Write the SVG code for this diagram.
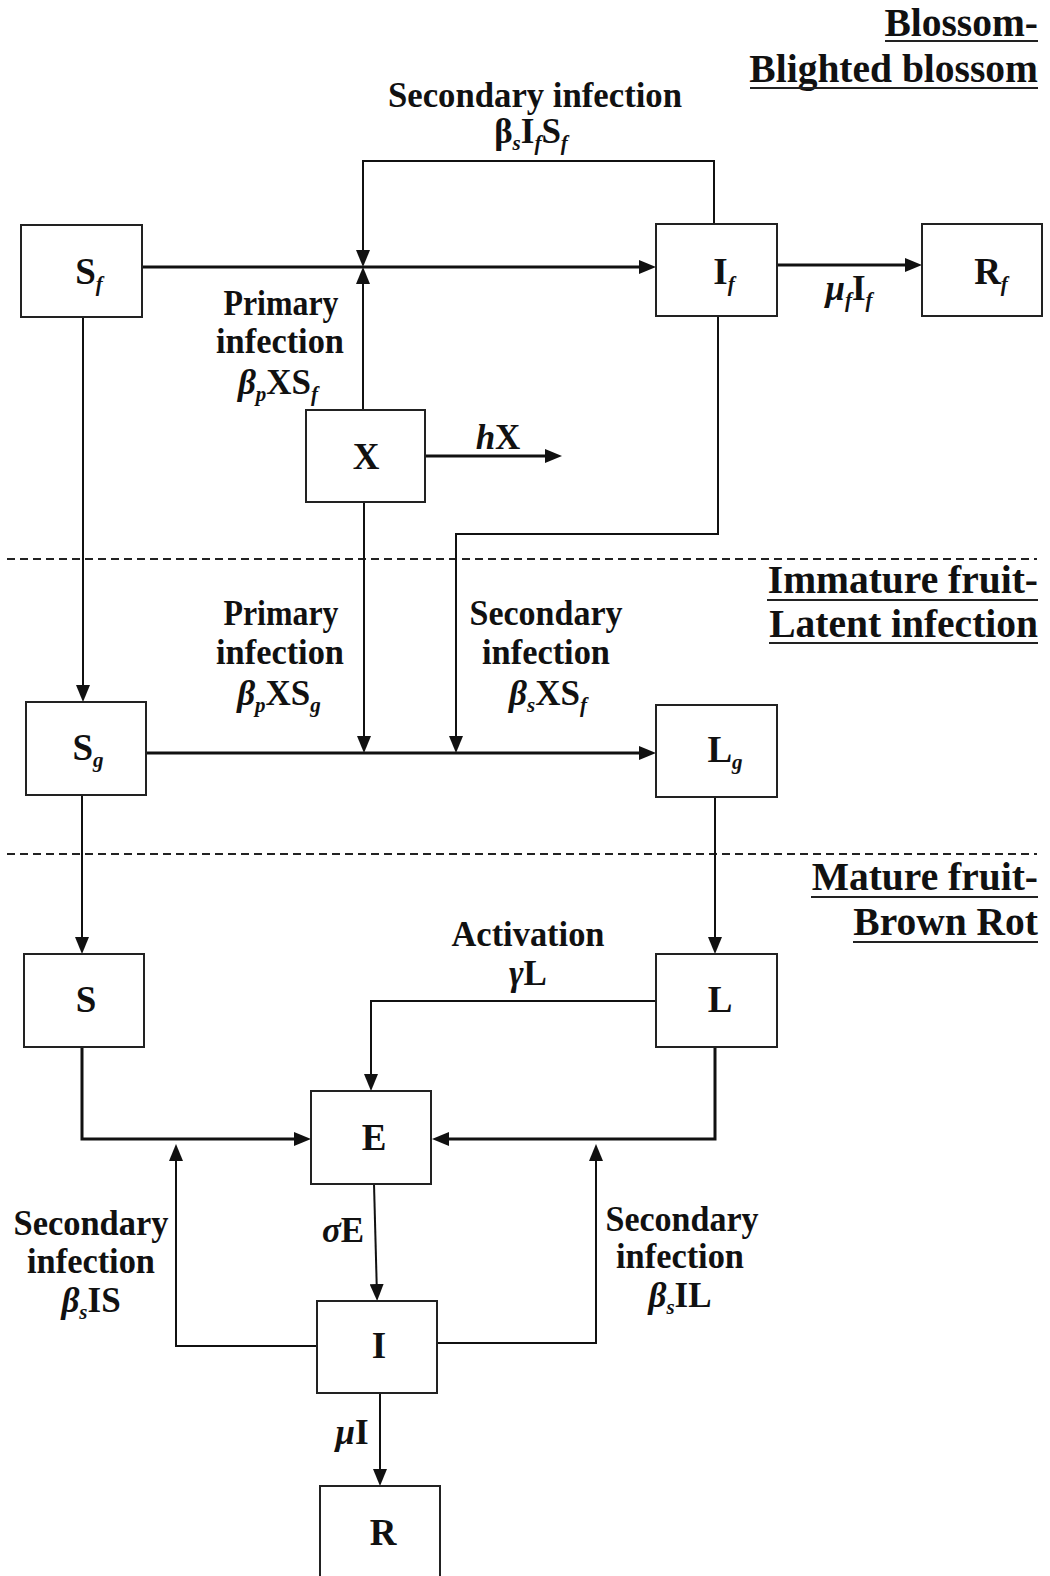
<svg xmlns="http://www.w3.org/2000/svg" width="1050" height="1576" viewBox="0 0 1050 1576">
<style>
text{font-family:"Liberation Serif","Times New Roman",serif;font-weight:bold;fill:#111}
.box{fill:#fff;stroke:#222;stroke-width:2}
.nl{font-size:37px;text-anchor:middle}
.lb{font-size:35px;text-anchor:middle}
.lw{font-size:35px;text-anchor:middle}
.hd{font-size:39.5px;text-anchor:end}
.sub{font-size:21px;font-style:italic}
.it{font-style:italic}
.ln{fill:none;stroke:#111;stroke-width:2}
.tk{stroke-width:3}
.ul{stroke:#222;stroke-width:2}
.dash{fill:none;stroke:#222;stroke-width:2;stroke-dasharray:8 5}
</style>
<defs>
<marker id="ah" markerUnits="userSpaceOnUse" markerWidth="17" markerHeight="14" viewBox="0 0 17 14" refX="12" refY="7" orient="auto">
<path d="M0,0 L17,7 L0,14 z" fill="#111"/>
</marker>
</defs>

<g id="headings">
<text class="hd" x="1038" y="36">Blossom-</text>
<line class="ul" x1="885" y1="41" x2="1038" y2="41"/>
<text class="hd" x="1038" y="82">Blighted blossom</text>
<line class="ul" x1="750" y1="88" x2="1038" y2="88"/>
<text class="hd" x="1038" y="593">Immature fruit-</text>
<line class="ul" x1="767" y1="600" x2="1038" y2="600"/>
<text class="hd" x="1038" y="637">Latent infection</text>
<line class="ul" x1="769" y1="643" x2="1038" y2="643"/>
<text class="hd" x="1038" y="890">Mature fruit-</text>
<line class="ul" x1="811" y1="897" x2="1038" y2="897"/>
<text class="hd" x="1038" y="935">Brown Rot</text>
<line class="ul" x1="853" y1="942" x2="1038" y2="942"/>
</g>

<g id="dividers">
<line class="dash" x1="7" y1="559" x2="1037" y2="559"/>
<line class="dash" x1="7" y1="854" x2="1037" y2="854"/>
</g>

<g id="connectors">
<path class="ln tk" d="M142,267 H651" marker-end="url(#ah)"/>
<path class="ln" d="M714,224 V161 H363 V262" marker-end="url(#ah)"/>
<path class="ln" d="M363,410 V272" marker-end="url(#ah)"/>
<path class="ln tk" d="M777,265 H917" marker-end="url(#ah)"/>
<path class="ln" d="M83,317 V697" marker-end="url(#ah)"/>
<path class="ln" d="M718,316 V534 H456 V748" marker-end="url(#ah)"/>
<path class="ln" d="M364,502 V748" marker-end="url(#ah)"/>
<path class="ln tk" d="M425,456 H557" marker-end="url(#ah)"/>
<path class="ln tk" d="M146,753 H651" marker-end="url(#ah)"/>
<path class="ln" d="M82,795 V949" marker-end="url(#ah)"/>
<path class="ln" d="M715,797 V949" marker-end="url(#ah)"/>
<path class="ln" d="M656,1001 H371 V1086" marker-end="url(#ah)"/>
<path class="ln tk" d="M82,1047 V1139 H306" marker-end="url(#ah)"/>
<path class="ln tk" d="M715,1047 V1139 H437" marker-end="url(#ah)"/>
<path class="ln" d="M317,1346 H176 V1149" marker-end="url(#ah)"/>
<path class="ln" d="M437,1343 H596 V1149" marker-end="url(#ah)"/>
<path class="ln" d="M374,1184 L377,1296" marker-end="url(#ah)"/>
<path class="ln" d="M380,1393 V1481" marker-end="url(#ah)"/>
</g>

<g id="connector-labels">
<text class="lw" x="535" y="107" textLength="294" lengthAdjust="spacingAndGlyphs">Secondary infection</text>
<text class="lb" x="531" y="143">β<tspan class="sub" dy="7">s</tspan><tspan dy="-7">I</tspan><tspan class="sub" dy="7">f</tspan><tspan dy="-7">S</tspan><tspan class="sub" dy="7">f</tspan></text>
<text class="lw" x="281" y="315" textLength="115" lengthAdjust="spacingAndGlyphs">Primary</text>
<text class="lw" x="280" y="353" textLength="128" lengthAdjust="spacingAndGlyphs">infection</text>
<text class="lb" x="278" y="394"><tspan class="it">β</tspan><tspan class="sub" dy="7">p</tspan><tspan dy="-7">XS</tspan><tspan class="sub" dy="7">f</tspan></text>
<text class="lb" x="498" y="449"><tspan class="it">h</tspan>X</text>
<text class="lb" x="849" y="300"><tspan class="it">μ</tspan><tspan class="sub" dy="7">f</tspan><tspan dy="-7">I</tspan><tspan class="sub" dy="7">f</tspan></text>
<text class="lw" x="281" y="625" textLength="115" lengthAdjust="spacingAndGlyphs">Primary</text>
<text class="lw" x="280" y="664" textLength="128" lengthAdjust="spacingAndGlyphs">infection</text>
<text class="lb" x="279" y="705"><tspan class="it">β</tspan><tspan class="sub" dy="7">p</tspan><tspan dy="-7">XS</tspan><tspan class="sub" dy="7">g</tspan></text>
<text class="lw" x="546" y="625" textLength="153" lengthAdjust="spacingAndGlyphs">Secondary</text>
<text class="lw" x="546" y="664" textLength="128" lengthAdjust="spacingAndGlyphs">infection</text>
<text class="lb" x="548" y="705"><tspan class="it">β</tspan><tspan class="sub" dy="7">s</tspan><tspan dy="-7">XS</tspan><tspan class="sub" dy="7">f</tspan></text>
<text class="lw" x="528" y="946" textLength="153" lengthAdjust="spacingAndGlyphs">Activation</text>
<text class="lb" x="528" y="985"><tspan class="it">γ</tspan>L</text>
<text class="lw" x="91" y="1235" textLength="155" lengthAdjust="spacingAndGlyphs">Secondary</text>
<text class="lw" x="91" y="1273" textLength="128" lengthAdjust="spacingAndGlyphs">infection</text>
<text class="lb" x="91" y="1312"><tspan class="it">β</tspan><tspan class="sub" dy="7">s</tspan><tspan dy="-7">IS</tspan></text>
<text class="lw" x="682" y="1231" textLength="153" lengthAdjust="spacingAndGlyphs">Secondary</text>
<text class="lw" x="680" y="1268" textLength="128" lengthAdjust="spacingAndGlyphs">infection</text>
<text class="lb" x="680" y="1307"><tspan class="it">β</tspan><tspan class="sub" dy="7">s</tspan><tspan dy="-7">IL</tspan></text>
<text class="lb" x="343" y="1242"><tspan class="it">σ</tspan>E</text>
<text class="lb" x="352" y="1444"><tspan class="it">μ</tspan>I</text>
</g>

<g id="node-Sf"><rect class="box" x="21" y="225" width="121" height="92"/><text class="nl" x="89" y="284">S<tspan class="sub" dy="7">f</tspan></text></g>
<g id="node-If"><rect class="box" x="656" y="224" width="121" height="92"/><text class="nl" x="724" y="284">I<tspan class="sub" dy="7">f</tspan></text></g>
<g id="node-Rf"><rect class="box" x="922" y="224" width="120" height="92"/><text class="nl" x="991" y="284">R<tspan class="sub" dy="7">f</tspan></text></g>
<g id="node-X"><rect class="box" x="306" y="410" width="119" height="92"/><text class="nl" x="366" y="469">X</text></g>
<g id="node-Sg"><rect class="box" x="26" y="702" width="120" height="93"/><text class="nl" x="88" y="760">S<tspan class="sub" dy="7">g</tspan></text></g>
<g id="node-Lg"><rect class="box" x="656" y="705" width="121" height="92"/><text class="nl" x="725" y="762">L<tspan class="sub" dy="7">g</tspan></text></g>
<g id="node-S"><rect class="box" x="24" y="954" width="120" height="93"/><text class="nl" x="86" y="1012">S</text></g>
<g id="node-L"><rect class="box" x="656" y="954" width="121" height="93"/><text class="nl" x="720" y="1012">L</text></g>
<g id="node-E"><rect class="box" x="311" y="1091" width="120" height="93"/><text class="nl" x="374" y="1150">E</text></g>
<g id="node-I"><rect class="box" x="317" y="1301" width="120" height="92"/><text class="nl" x="379" y="1358">I</text></g>
<g id="node-R"><rect class="box" x="320" y="1486" width="120" height="100"/><text class="nl" x="383" y="1545">R</text></g>
</svg>
